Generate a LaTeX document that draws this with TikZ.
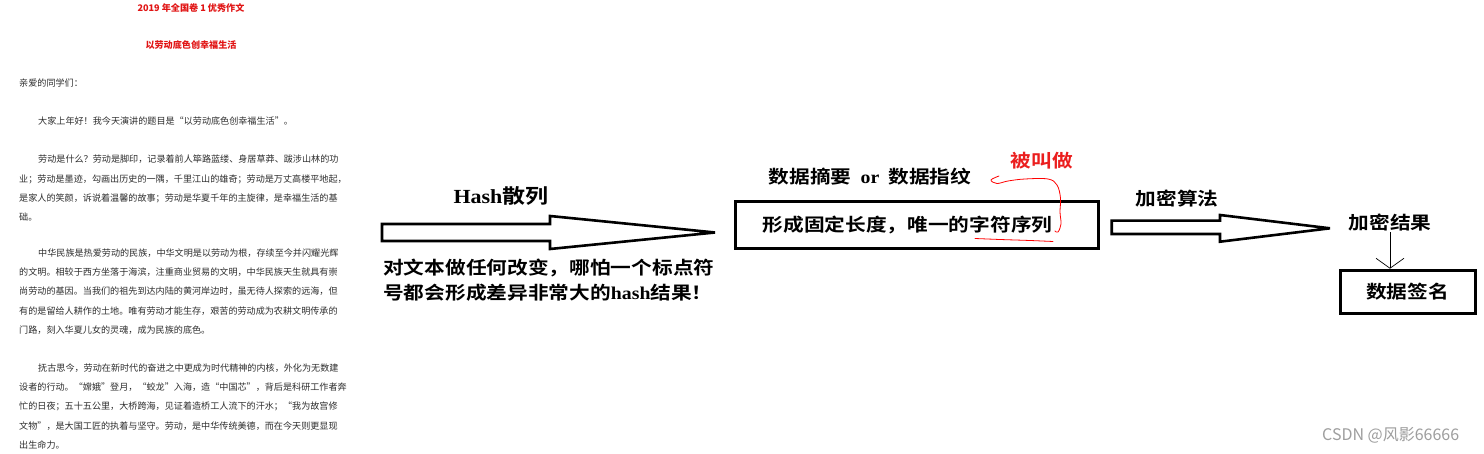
\documentclass[tikz,border=0pt]{standalone}
\usepackage{fontspec}
\setmainfont{Noto Sans CJK SC}
\newfontfamily\cjkbold[FakeStretch=1.15]{Noto Sans CJK SC Bold}
\newfontfamily\latbold[FakeStretch=1.1]{Liberation Serif Bold}
\usepackage{tikz}
\usetikzlibrary{
  arrows.meta,
  positioning,
  calc
}
\definecolor{essayred}{RGB}{225,20,20}
\definecolor{markred}{RGB}{235,30,30}
\definecolor{inkgray}{RGB}{45,45,45}

\tikzset{
  essay/.style={anchor=west, inner sep=0pt, text=inkgray,
    font=\fontsize{9.1}{11}\selectfont},
  bigtext/.style={inner sep=0pt, font=\fontsize{18}{25}\cjkbold},
  boxed/.style={draw, line width=3pt, inner sep=0pt},
  blockarrow/.style={draw, line width=2.6pt, miter limit=4},
  scribble/.style={draw=red, line width=0.8pt, line cap=round}
}

\begin{document}
\begin{tikzpicture}[x=1pt, y=-1pt]
  \fill[white] (0,0) rectangle (1484,454);
  \useasboundingbox (0,0) rectangle (1484,454);

  % the essay
  \node[essay, anchor=center, text=essayred, font=\fontsize{9.1}{11}\selectfont\bfseries] (title) at (191,8) {2019 年全国卷 1 优秀作文};
  \node[essay, anchor=center, text=essayred, font=\fontsize{9.1}{11}\selectfont\bfseries] (subtitle) at (191,45) {以劳动底色创幸福生活};
  \foreach \yy/\xx/\txt [count=\i] in {
    83/19/亲爱的同学们：,
    121/38/大家上年好！我今天演讲的题目是“以劳动底色创幸福生活”。,
    159/38/劳动是什么？劳动是脚印，记录着前人筚路蓝缕、身居草莽、跋涉山林的功,
    179/19/业；劳动是墨迹，勾画出历史的一隅，千里江山的雄奇；劳动是万丈高楼平地起，,
    198.5/19/是家人的笑颜，诉说着温馨的故事；劳动是华夏千年的主旋律，是幸福生活的基,
    217.5/19/础。,
    253/38/中华民族是热爱劳动的民族，中华文明是以劳动为根，存续至今并闪耀光辉,
    272.5/19/的文明。相较于西方坐落于海滨，注重商业贸易的文明，中华民族天生就具有崇,
    291.5/19/尚劳动的基因。当我们的祖先到达内陆的黄河岸边时，虽无待人探索的远海，但,
    311/19/有的是留给人耕作的土地。唯有劳动才能生存，艰苦的劳动成为农耕文明传承的,
    330/19/门路，刻入华夏儿女的灵魂，成为民族的底色。,
    368/38/抚古思今，劳动在新时代的奋进之中更成为时代精神的内核，外化为无数建,
    387/19/设者的行动。“嫦娥”登月，“蛟龙”入海，造“中国芯”，背后是科研工作者奔,
    406.5/19/忙的日夜；五十五公里，大桥跨海，见证着造桥工人流下的汗水；“我为故宫修,
    426/19/文物”，是大国工匠的执着与坚守。劳动，是中华传统美德，而在今天则更显现,
    445/19/出生命力。}
    \node[essay] (doc\i) at (\xx,\yy) {\txt};

  % hashing
  \draw[blockarrow] (382,224) -- (550,224) -- (550,216) -- (715,232.5)
    -- (550,249) -- (550,241) -- (382,241) -- cycle;
  \node[bigtext, font=\fontsize{20}{24}\cjkbold] (hashlbl) at (501,196) {{\latbold Hash}散列};
  \node[bigtext, anchor=north west, align=left] (note) at (383,259)
    {对文本做任何改变，哪怕一个标点符\\号都会形成差异非常大的{\latbold hash}结果！};

  \node[boxed, bigtext, minimum width=363pt, minimum height=47pt] (seq) at (916.5,225.3)
    {形成固定长度，唯一的字符序列\hspace*{18pt}};
  \node[bigtext] (digest) at (870,177) {数据摘要\hspace{9pt}{\latbold or}\hspace{9pt}数据指纹};
  \node[bigtext, text=markred] (called) at (1042,161) {被叫做};

  % red pen marks
  \coordinate (hook) at (999,176);
  \draw[scribble] plot[smooth, tension=0.6] coordinates {(hook) (991,180) (997,183.5)
    (1008,181) (1025,179) (1048,179) (1057,185) (1060.5,198) (1060,212) (1061,224)
    (1058,232) (1055,231)};
  \draw[scribble] plot[smooth] coordinates {(975,238.5) (1000,239.5) (1030,240.5) (1053,241.5)};

  % encryption
  \draw[blockarrow] (1111.7,220.7) -- (1220,220.7) -- (1220,215) -- (1330,228.3)
    -- (1220,241.7) -- (1220,234) -- (1111.7,234) -- cycle;
  \node[bigtext] (algo) at (1177,199) {加密算法};
  \node[bigtext] (result) at (1390,223) {加密结果};
  \node[boxed, bigtext, minimum width=135pt, minimum height=43pt] (sign) at (1407.5,291.7) {数据签名};
  \draw[-{Straight Barb[length=10pt,width=28pt]}, line width=0.7pt] (result.south) -- (result.south |- sign.north);

  \node[anchor=west, inner sep=0pt, text=black!38, font=\fontsize{16}{16}\selectfont] (mark) at (1322,435) {CSDN @风影66666};
\end{tikzpicture}
\end{document}
